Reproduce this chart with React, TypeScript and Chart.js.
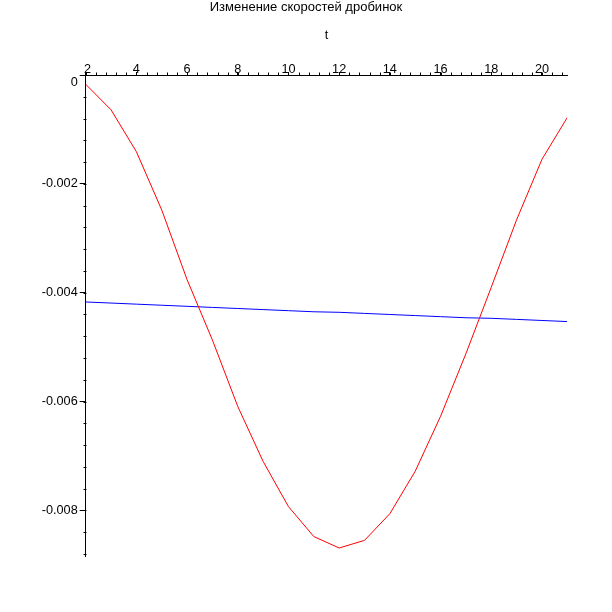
import React, { useEffect, useRef } from "react";
import { Chart, registerables } from "chart.js";

Chart.register(...registerables);

const TITLE = "Изменение скоростей дробинок";
const X_TITLE = "t";

const tValues = [2, 3, 4, 5, 6, 7, 8, 9, 10, 11, 12, 13, 14, 15, 16, 17, 18, 19, 20, 21];
const redSeries = [
  -0.00017, -0.00064, -0.00141, -0.00248, -0.00376, -0.00487, -0.00609, -0.0071, -0.00793, -0.00848,
  -0.00869, -0.00855, -0.00806, -0.00728, -0.00627, -0.00512, -0.0039, -0.00266, -0.00155, -0.00078,
];
const blueSeries = [
  -0.00417, -0.00419, -0.00421, -0.00423, -0.00425, -0.00427, -0.00429, -0.00431, -0.00433, -0.00435,
  -0.00436, -0.00438, -0.0044, -0.00442, -0.00444, -0.00446, -0.00447, -0.00449, -0.00451, -0.00453,
];

const xMajorTicks = [2, 4, 6, 8, 10, 12, 14, 16, 18, 20];
const xTickLabels = [" 2", "4", "6", "8", "10", "12", "14", "16", "18", "20"];
const xMinorStep = 0.4;
const yMajorTicks = [0, -0.002, -0.004, -0.006, -0.008];
const yTickLabels: (string | string[])[] = [["", "0"], "-0.002", "-0.004", "-0.006", "-0.008"];
const yMinorStep = 0.0004;
const X_MIN = 2;
const X_MAX = 21;
const Y_MIN = -0.00885;
const Y_MAX = 0;

const FONT = "'Liberation Sans', Arial, sans-serif";

const minorTicksPlugin = {
  id: "minorTicks",
  afterDraw(chart: any) {
    const ctx = chart.ctx;
    const y = chart.scales.y;
    const x = chart.scales.x;
    ctx.save();
    ctx.strokeStyle = "#000";
    ctx.lineWidth = 1;
    ctx.beginPath();
    const n = Math.round((Y_MAX - Y_MIN) / yMinorStep);
    for (let i = 0; i <= n; i++) {
      const v = Y_MAX - i * yMinorStep;
      if (v < Y_MIN - 1e-9) break;
      const py = Math.round(y.getPixelForValue(v)) + 0.5;
      const px = Math.round(x.left) + 0.5;
      ctx.moveTo(px - 3, py);
      ctx.lineTo(px, py);
    }
    const m = Math.round((X_MAX - X_MIN) / xMinorStep);
    for (let i = 0; i <= m; i++) {
      const v = X_MIN + i * xMinorStep;
      if (v > X_MAX + 1e-9) break;
      const px = Math.round(x.getPixelForValue(v)) + 0.5;
      const py = Math.round(y.top) + 0.5;
      ctx.moveTo(px, py - 3);
      ctx.lineTo(px, py);
    }
    ctx.stroke();
    ctx.restore();
  },
};

export default function App() {
  const canvasRef = useRef<HTMLCanvasElement | null>(null);

  useEffect(() => {
    const canvas = canvasRef.current;
    if (!canvas) return;
    const chart = new Chart(canvas, {
      type: "line",
      data: {
        datasets: [
          {
            label: "red",
            data: tValues.map((t, i) => ({ x: t, y: redSeries[i] })),
            borderColor: "#ff0000",
            borderWidth: 1,
            pointRadius: 0,
            tension: 0,
            fill: false,
          },
          {
            label: "blue",
            data: tValues.map((t, i) => ({ x: t, y: blueSeries[i] })),
            borderColor: "#0000ff",
            borderWidth: 1,
            pointRadius: 0,
            tension: 0,
            fill: false,
          },
        ],
      },
      options: {
        animation: false,
        responsive: false,
        maintainAspectRatio: false,
        layout: { padding: { left: 0, right: 0, top: 0, bottom: 55.3 } },
        plugins: {
          legend: { display: false },
          tooltip: { enabled: false },
          title: {
            display: true,
            text: TITLE,
            color: "#000",
            font: { family: FONT, size: 13, weight: "normal", lineHeight: 1.1 },
            padding: { top: 0, bottom: 0 },
          },
        },
        scales: {
          x: {
            type: "linear",
            position: "top",
            min: X_MIN,
            max: X_MAX,
            afterBuildTicks: (scale: any) => {
              scale.ticks = xMajorTicks.map((v) => ({ value: v }));
            },
            afterFit: (scale: any) => {
              scale.height = 75 - 14.3;
            },
            grid: { drawOnChartArea: false, drawTicks: true, tickLength: 3, color: "#000" },
            border: { display: true, color: "#000", width: 1 },
            ticks: {
              color: "#000",
              font: { family: FONT, size: 12.7 },
              padding: -5,
              maxRotation: 0,
              autoSkip: false,
              callback: (v: any, i: number) => xTickLabels[i] ?? String(v),
            },
            title: {
              display: true,
              text: X_TITLE,
              color: "#000",
              font: { family: FONT, size: 12.7 },
              padding: { top: 14, bottom: 0 },
            },
          },
          y: {
            type: "linear",
            position: "left",
            min: Y_MIN,
            max: Y_MAX,
            afterBuildTicks: (scale: any) => {
              scale.ticks = yMajorTicks.map((v) => ({ value: v }));
            },
            afterFit: (scale: any) => {
              scale.width = 85.7;
            },
            grid: { drawOnChartArea: false, drawTicks: true, tickLength: 6, color: "#000" },
            border: { display: true, color: "#000", width: 1 },
            ticks: {
              color: "#000",
              font: { family: FONT, size: 12.7 },
              padding: 2,
              autoSkip: false,
              callback: (v: any, i: number) => yTickLabels[i] ?? String(v),
            },
          },
          yRight: {
            type: "linear",
            position: "right",
            display: true,
            min: Y_MIN,
            max: Y_MAX,
            grid: { display: false, drawTicks: false },
            border: { display: false },
            ticks: { display: false },
            afterFit: (scale: any) => {
              scale.width = 44.7;
            },
          },
        },
      },
      plugins: [minorTicksPlugin],
    } as any);
    return () => chart.destroy();
  }, []);

  return (
    <div style={{ position: "absolute", left: 0, top: 0, width: 612, height: 612, background: "#fff" }}>
      <canvas ref={canvasRef} width={612} height={612} style={{ width: 612, height: 612 }} />
    </div>
  );
}
